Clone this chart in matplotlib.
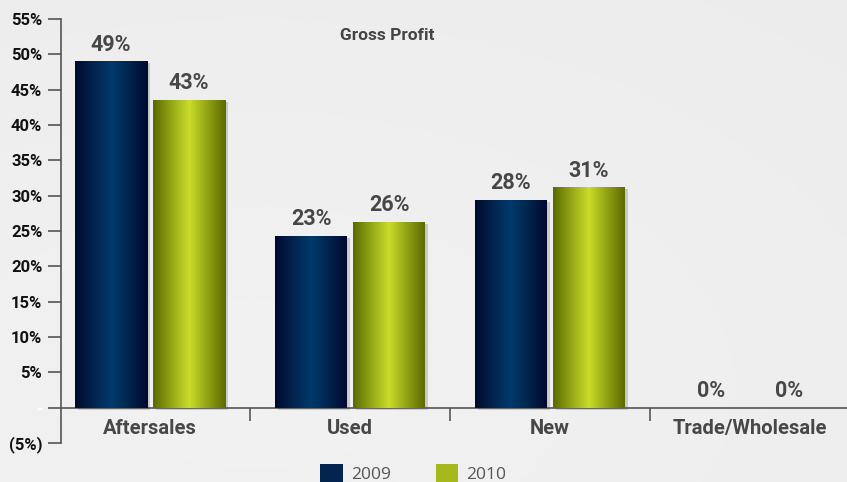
import matplotlib
matplotlib.use("Agg")
import matplotlib.pyplot as plt
import matplotlib.patheffects as pe
import matplotlib.transforms as mtransforms
from matplotlib.colors import LinearSegmentedColormap
from matplotlib.patches import Patch
import numpy as np

categories = ["Aftersales", "Used", "New", "Trade/Wholesale"]
years = ["2009", "2010"]
gp_2009 = [49.0, 24.3, 29.4, 0.0]
gp_2010 = [43.6, 26.3, 31.2, 0.0]
labels_2009 = ["49%", "23%", "28%", "0%"]
labels_2010 = ["43%", "26%", "31%", "0%"]
y_ticks = [-5, 0, 5, 10, 15, 20, 25, 30, 35, 40, 45, 50, 55]
y_tick_labels = ["(5%)", "-", "5%", "10%", "15%", "20%", "25%", "30%",
                 "35%", "40%", "45%", "50%", "55%"]

NARROW = ["Roboto", "DejaVu Sans"]
navy_cmap = LinearSegmentedColormap.from_list(
    "navy", ["#000a2e", "#02244f", "#003a6b", "#01244c", "#000830"])
olive_cmap = LinearSegmentedColormap.from_list(
    "olive", ["#5a6a02", "#93a615", "#cbdc2a", "#91a214", "#5c6a00"])


def gradient_bars(ax, bars, cmap):
    grad = np.linspace(0, 1, 256).reshape(1, -1)
    for b in bars:
        x0, y0 = b.get_x(), b.get_y()
        w, h = b.get_width(), b.get_height()
        if h <= 0:
            continue
        im = ax.imshow(grad, cmap=cmap, aspect="auto",
                       extent=[x0, x0 + w, y0, y0 + h], zorder=3)
        im.set_clip_path(b)


def main():
    fig = plt.figure(figsize=(8.47, 4.82), dpi=100)

    # soft grey backdrop
    bg = fig.add_axes([0, 0, 1, 1], zorder=-10)
    yy, xx = np.mgrid[0:1:200j, 0:1:200j]
    shade = 0.925 + 0.02 * (1 - np.hypot(xx - 0.3, yy - 0.8))
    bg.imshow(shade, cmap="gray", vmin=0, vmax=1, aspect="auto",
              extent=[0, 1, 0, 1])
    bg.axis("off")

    ax = fig.add_axes([61 / 847, 39 / 482, 786 / 847, 424 / 482])
    ax.patch.set_alpha(0)

    x = np.arange(len(categories))
    width = 0.36
    offset = 0.195
    shadow = [pe.SimplePatchShadow(offset=(2.5, -1.5), alpha=0.22,
                                   shadow_rgbFace="#444444"),
              pe.Normal()]
    bars_a = ax.bar(x - offset, gp_2009, width, color="#01244c", zorder=2,
                    path_effects=shadow)
    bars_b = ax.bar(x + offset, gp_2010, width, color="#a5b81c", zorder=2,
                    path_effects=shadow)
    gradient_bars(ax, bars_a, navy_cmap)
    gradient_bars(ax, bars_b, olive_cmap)

    for bars, labs in ((bars_a, labels_2009), (bars_b, labels_2010)):
        for b, lab in zip(bars, labs):
            ax.annotate(lab, (b.get_x() + b.get_width() / 2, b.get_height()),
                        xytext=(0, 4), textcoords="offset points",
                        ha="center", va="bottom", fontsize=15.5,
                        fontweight="bold", color="#474747", family=NARROW)

    ax.set_xlim(-0.445, 3.485)
    ax.set_ylim(-5, 55)

    ax.spines["top"].set_visible(False)
    ax.spines["right"].set_visible(False)
    ax.spines["bottom"].set_position(("data", 0))
    for s in ("left", "bottom"):
        ax.spines[s].set_color("#555555")
        ax.spines[s].set_linewidth(1.2)

    ax.set_yticks(y_ticks)
    ax.set_yticklabels(y_tick_labels, fontsize=12, fontweight="bold",
                       color="#111111", family=NARROW)
    ax.get_yticklabels()[1].set_color("white")
    shift = mtransforms.ScaledTranslation(0, -3 / 100, fig.dpi_scale_trans)
    for lab in ax.get_yticklabels():
        lab.set_transform(lab.get_transform() + shift)
    ax.tick_params(axis="y", direction="out", length=9.5, width=1.2,
                   color="#555555", pad=4)

    ax.set_xticks([0.5, 1.5, 2.5])
    ax.set_xticklabels([])
    ax.tick_params(axis="x", which="major", direction="out", length=9.5,
                   width=1.2, color="#555555")
    ax.set_xticks(x, minor=True)
    ax.set_xticklabels(categories, minor=True, fontsize=14.5, fontweight="bold",
                       color="#474747", family=NARROW)
    ax.tick_params(axis="x", which="minor", length=0, pad=8)

    ax.text(0.415, 0.962, "Gross Profit", transform=ax.transAxes,
            ha="center", va="center", fontsize=12.5, fontweight="bold",
            color="#444444", family=NARROW)

    handles = [Patch(facecolor="#02244f"), Patch(facecolor="#a5b81c")]
    leg = fig.legend(handles, years, loc="lower center", ncol=2,
                     bbox_to_anchor=(0.488, -0.035), frameon=False,
                     fontsize=12.5, handlelength=1.3, handleheight=1.3,
                     handletextpad=0.45, columnspacing=2.6)
    for t in leg.get_texts():
        t.set_color("#555555")
        t.set_family(["Open Sans", "DejaVu Sans"])

    fig.savefig("out.png", dpi=100)
    plt.close(fig)


if __name__ == "__main__":
    main()
